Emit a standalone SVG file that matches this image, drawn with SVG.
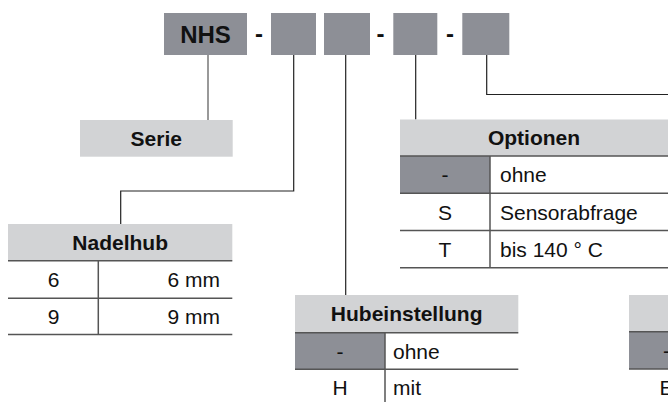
<svg xmlns="http://www.w3.org/2000/svg" width="668" height="402" viewBox="0 0 668 402">
<style>
.box{fill:#8d8f96}
.hdr{fill:#d2d3d5}
.dk{fill:#8d8f96}
.t{font-family:"Liberation Sans",Arial,sans-serif;font-size:21px;fill:#111}
.b{font-weight:bold}
.m{text-anchor:middle}
.e{text-anchor:end}
.rl{stroke:#555;stroke-width:1.5;fill:none}
.cn{stroke:#222;stroke-width:1.2;fill:none}
.cg{stroke:#777;stroke-width:1.5;fill:none}
</style>
<rect width="668" height="402" fill="#fff"/>
<g id="connectors">
<path class="cg" d="M208 55V120"/>
<path class="cn" d="M293.7 55V191H120.7V224"/>
<path class="cn" d="M345.7 55V295"/>
<path class="cn" d="M415.7 55V119.5"/>
<path class="cn" d="M486.7 55V94.5H668"/>
</g>
<g id="code">
<rect class="box" x="164" y="13" width="83" height="42"/>
<text class="t b m" x="205.5" y="43" style="font-size:24px">NHS</text>
<text class="t b m" x="259" y="42" style="font-size:24px">-</text>
<rect class="box" x="271" y="13" width="45" height="42"/>
<rect class="box" x="324" y="13" width="46" height="42"/>
<text class="t b m" x="380.5" y="42" style="font-size:24px">-</text>
<rect class="box" x="393.3" y="13" width="44" height="42"/>
<text class="t b m" x="450" y="42" style="font-size:24px">-</text>
<rect class="box" x="462.3" y="13" width="47" height="42"/>
</g>
<g id="serie">
<rect class="hdr" x="80" y="120" width="152.7" height="36.7"/>
<text class="t b m" x="156.3" y="145.5">Serie</text>
</g>
<g id="nadelhub">
<rect class="hdr" x="8" y="224" width="224.3" height="36.7"/>
<text class="t b m" x="120.2" y="250">Nadelhub</text>
<path class="rl" d="M8 260.7H232.3M8 298.3H232.3M8 334.5H232.3M98.3 260.7V334.5"/>
<text class="t m" x="53.5" y="287">6</text>
<text class="t e" x="220" y="287">6 mm</text>
<text class="t m" x="53.5" y="324">9</text>
<text class="t e" x="220" y="324">9 mm</text>
</g>
<g id="optionen">
<rect class="hdr" x="400" y="119.5" width="268" height="36.5"/>
<text class="t b m" x="534" y="145">Optionen</text>
<rect class="dk" x="400" y="156" width="90" height="37.3"/>
<path class="rl" d="M400 156H668M400 193.3H668M400 230.5H668M400 267.8H668M490 156V267.8"/>
<text class="t m" x="445" y="182">-</text>
<text class="t" x="500" y="182">ohne</text>
<text class="t m" x="445" y="219.5">S</text>
<text class="t" x="500" y="219.5">Sensorabfrage</text>
<text class="t m" x="445" y="257">T</text>
<text class="t" x="500" y="257">bis 140 ° C</text>
</g>
<g id="hubeinstellung">
<rect class="hdr" x="295" y="295" width="223.3" height="37.7"/>
<text class="t b m" x="406.7" y="321">Hubeinstellung</text>
<rect class="dk" x="295" y="332.7" width="90" height="36.6"/>
<path class="rl" d="M295 332.7H518.3M295 369.3H518.3M385 332.7V402"/>
<text class="t m" x="340" y="358.5">-</text>
<text class="t" x="393" y="358.5">ohne</text>
<text class="t m" x="340" y="395">H</text>
<text class="t" x="393" y="395">mit</text>
</g>
<g id="right-table">
<rect class="hdr" x="629" y="295" width="39" height="36.7"/>
<rect class="dk" x="629" y="331.7" width="39" height="37.3"/>
<path class="rl" d="M629 331.7H668M629 369H668"/>
<text class="t m" x="666.5" y="358">-</text>
<text class="t m" x="666.5" y="395">E</text>
</g>
</svg>
